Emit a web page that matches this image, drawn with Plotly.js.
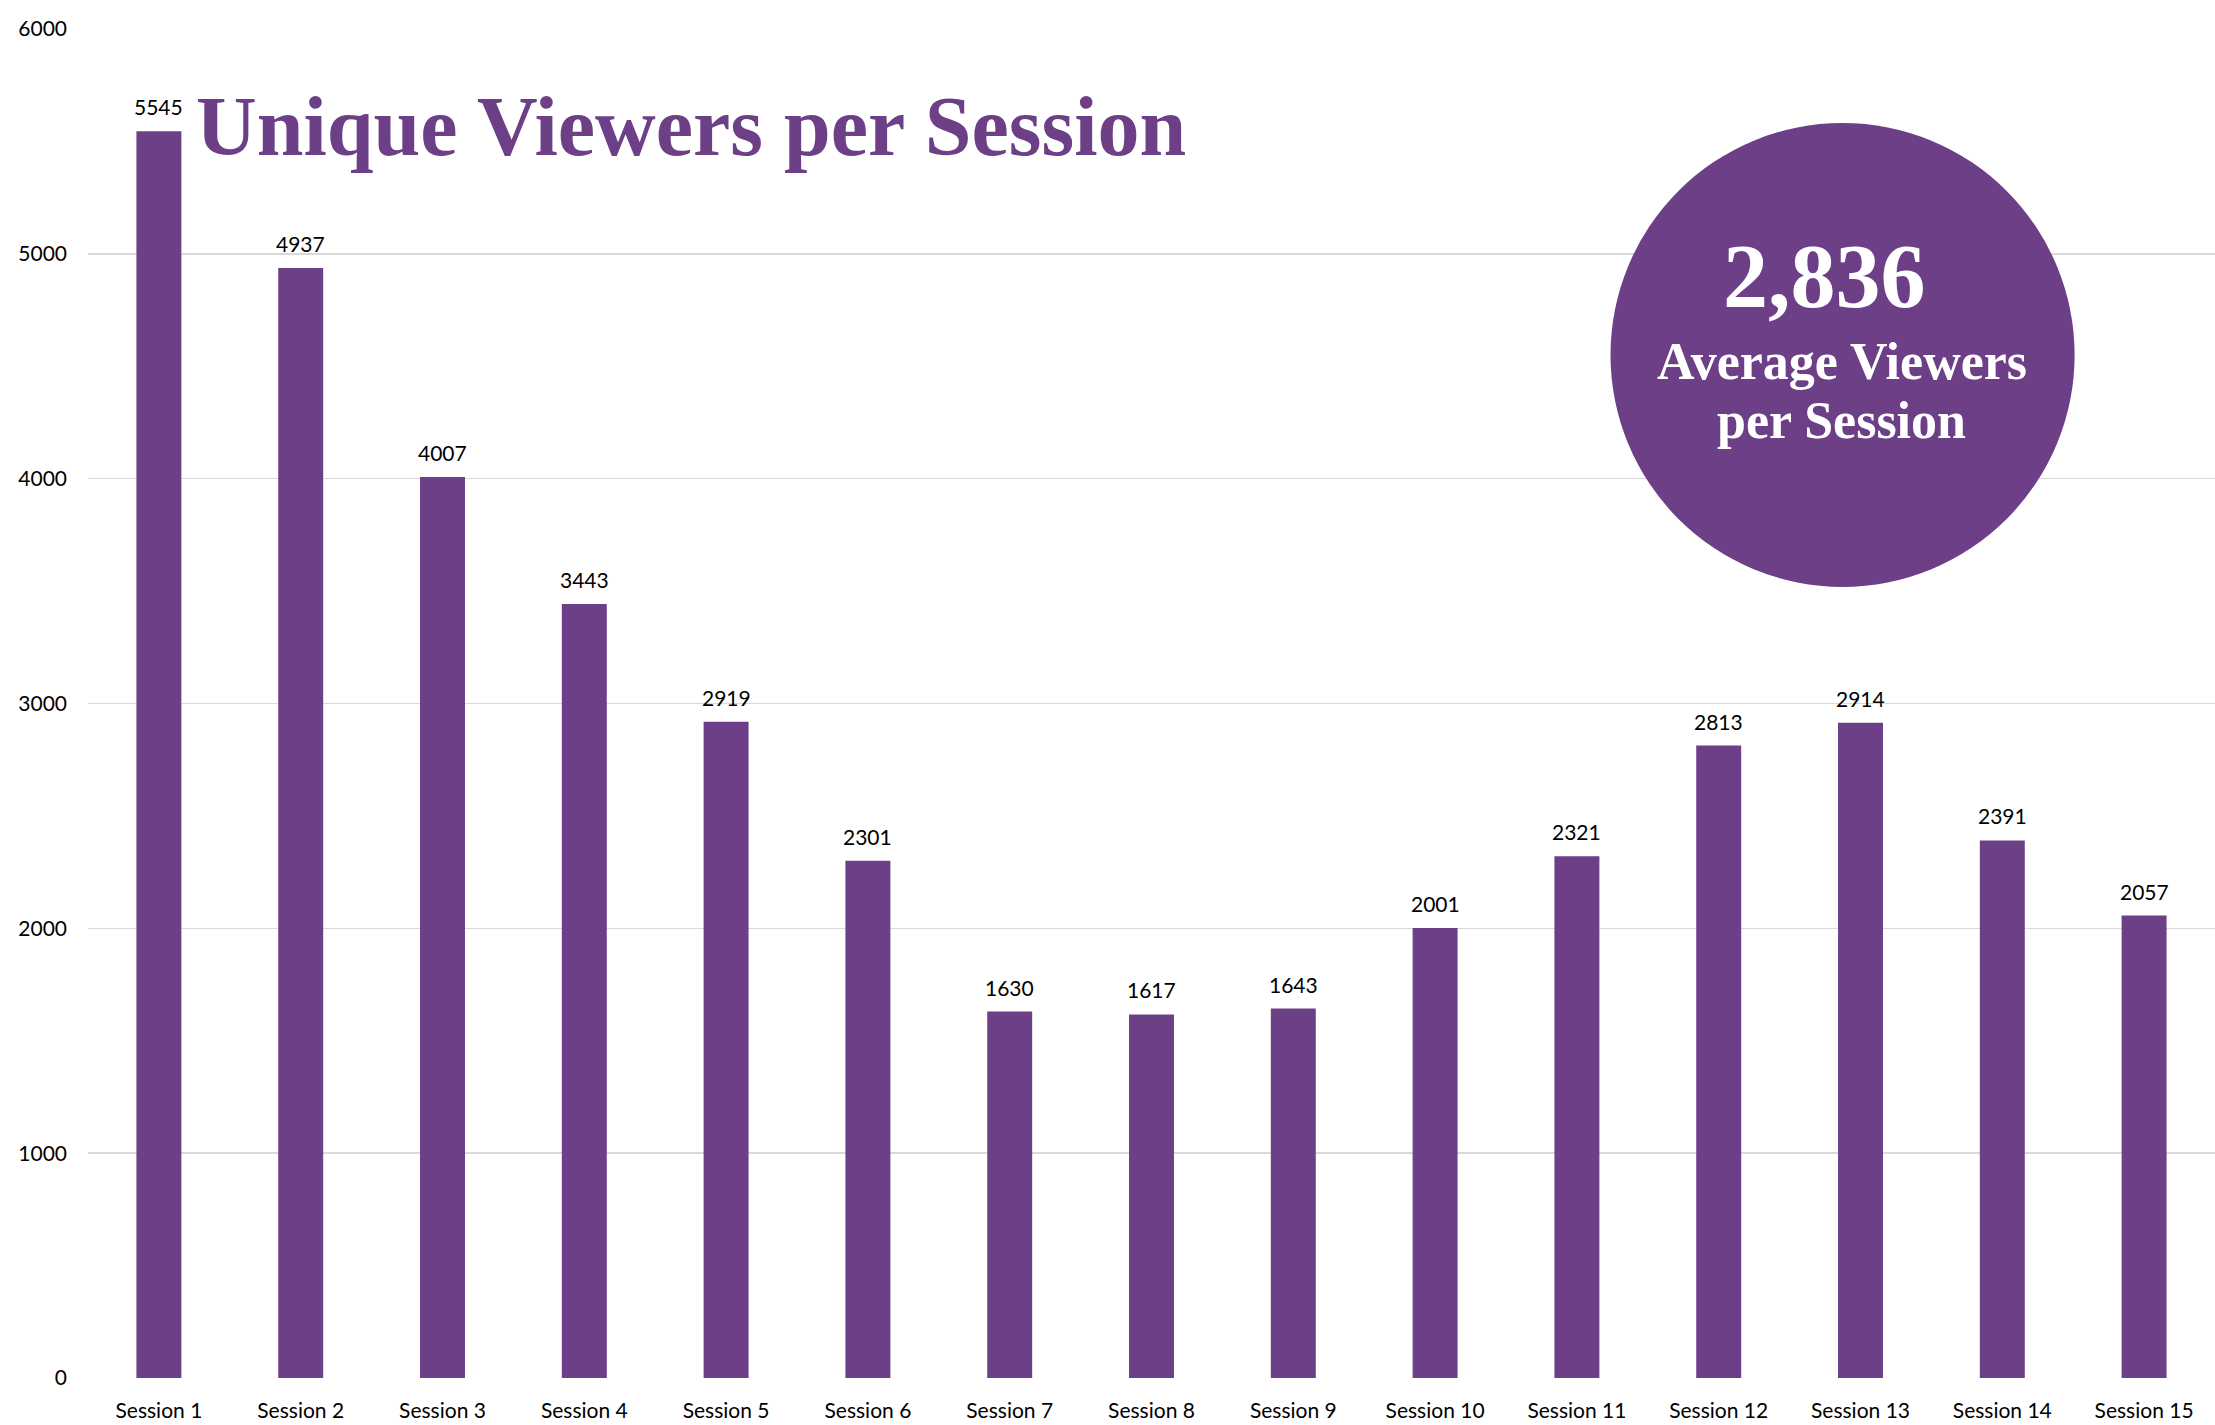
<!DOCTYPE html>
<html>
<head>
<meta charset="utf-8">
<script src="https://cdn.plot.ly/plotly-3.0.1.min.js"></script>
<style>html,body{margin:0;padding:0;background:#fff;}</style>
</head>
<body>
<div id="chart" style="width:2215px;height:1425px;"></div>
<script>
const categories = ["Session 1","Session 2","Session 3","Session 4","Session 5","Session 6","Session 7","Session 8","Session 9","Session 10","Session 11","Session 12","Session 13","Session 14","Session 15"];
const viewers = [5545,4937,4007,3443,2919,2301,1630,1617,1643,2001,2321,2813,2914,2391,2057];
const yTicks = [0,1000,2000,3000,4000,5000,6000];
const chartTitle = "Unique Viewers per Session";
const badgeLine1 = "Average Viewers";
const badgeLine2 = "per Session";

const purple = "#6c3f87";
const avg = Math.round(viewers.reduce((a,b)=>a+b,0)/viewers.length);

const labelAnns = categories.map((c,i)=>({
  x: c, y: viewers[i], xref:'x', yref:'y',
  text: String(viewers[i]), showarrow:false,
  yanchor:'bottom', yshift: 10,
  font:{family:'Lato, sans-serif', size:21, color:'#000'}
}));

const trace = {
  type:'bar', x: categories, y: viewers,
  marker:{color:purple},
  hoverinfo:'skip'
};

const badgeFont = {family:'Liberation Serif, serif', size:52, color:'#fff'};

const layout = {
  width:2215, height:1425,
  margin:{l:88, r:0, t:29, b:47, pad:0},
  paper_bgcolor:'#fff', plot_bgcolor:'#fff',
  bargap:0.683,
  showlegend:false,
  title:{
    text: chartTitle, xref:'container', yref:'container',
    x: 0.0885, xanchor:'left', y: 0.9118, yanchor:'middle',
    font:{family:'Liberation Serif, serif', size:84, color:purple, weight:'bold'}
  },
  xaxis:{
    type:'category', showgrid:false, zeroline:false, showline:false,
    ticks:'', ticklabelstandoff:18,
    tickfont:{family:'Lato, sans-serif', size:21, color:'#000'}
  },
  yaxis:{
    range:[0,6000], tickvals:yTicks, ticktext:yTicks.map(String),
    showgrid:true, gridcolor:'#d9d9d9', gridwidth:1.5,
    zeroline:false, showline:false, ticks:'', ticklabelstandoff:20,
    tickfont:{family:'Lato, sans-serif', size:21, color:'#000'}
  },
  shapes:[{
    type:'circle', xref:'paper', yref:'paper',
    x0:0.7158, x1:0.9340, y0:0.5864, y1:0.9303,
    fillcolor:purple, line:{width:0}, layer:'above'
  }],
  annotations: labelAnns.concat([
    {xref:'paper', yref:'paper', x:0.8166, y:0.8162, xanchor:'center', yanchor:'middle',
     text:'<b>'+avg.toLocaleString('en-US')+'</b>', showarrow:false,
     font:{family:'Liberation Serif, serif', size:90, color:'#fff'}},
    {xref:'paper', yref:'paper', x:0.8246, y:0.7532, xanchor:'center', yanchor:'middle',
     text:'<b>'+badgeLine1+'</b>', showarrow:false, font:badgeFont},
    {xref:'paper', yref:'paper', x:0.8246, y:0.7101, xanchor:'center', yanchor:'middle',
     text:'<b>'+badgeLine2+'</b>', showarrow:false, font:badgeFont}
  ])
};

Plotly.newPlot('chart',[trace],layout,{displayModeBar:false, staticPlot:true});
</script>
</body>
</html>
